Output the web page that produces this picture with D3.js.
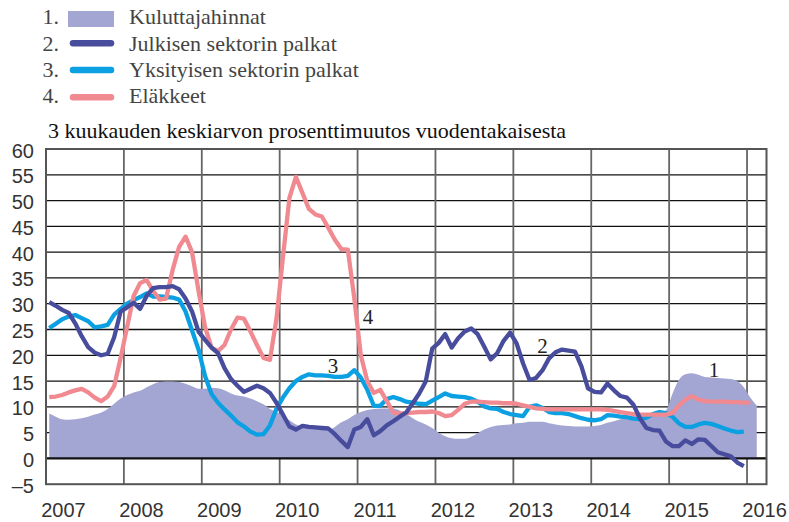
<!DOCTYPE html>
<html><head><meta charset="utf-8">
<script src="https://cdn.jsdelivr.net/npm/d3@7"></script>
<style>body{margin:0;background:#fff}svg{display:block}</style>
</head><body>
<svg id="c" width="789" height="522"></svg>
<script>
// Monthly data, Jan 2007 onward (index 0 = Jan 2007)
const seriesNames = ["Kuluttajahinnat","Julkisen sektorin palkat","Yksityisen sektorin palkat","Eläkkeet"];
const kuluttajahinnat = [8.7,8.1,7.6,7.5,7.6,7.8,8.1,8.5,8.9,9.6,10.6,11.6,
 12.3,12.8,13.1,13.8,14.4,14.8,14.9,14.9,14.8,14.5,14.0,13.5,
 13.5,13.7,13.6,13.2,12.6,12.2,12.0,11.6,11.1,10.5,9.6,9.0,
 8.3,7.4,6.6,6.2,6.0,5.8,5.7,5.6,6.1,7.0,7.6,8.4,
 9.0,9.4,9.6,9.7,9.7,9.7,9.3,8.6,7.8,7.1,6.6,5.9,
 5.0,4.3,3.9,3.8,3.8,4.2,4.9,5.6,6.1,6.4,6.5,6.6,
 6.8,6.9,7.1,7.1,7.1,6.8,6.6,6.4,6.3,6.2,6.2,6.2,
 6.3,6.5,6.9,7.2,7.6,7.9,8.2,8.5,8.7,8.8,8.9,9.3,
 12.5,15.2,16.3,16.5,16.2,15.8,15.7,15.6,15.5,15.4,15.0,13.8,
 11.8,10.2];
const julkinen = [30.3,29.6,28.8,28.2,26.2,23.7,21.6,20.5,20.0,20.3,23.5,28.5,
 29.3,30.2,29.0,31.5,33.0,33.2,33.2,33.4,32.8,31.0,28.5,24.6,
 23.0,21.5,20.4,17.5,15.4,14.1,12.9,13.5,14.1,13.6,12.7,10.8,
 8.5,6.2,5.6,6.3,6.1,6.0,5.9,5.8,4.7,3.4,2.2,5.6,
 6.1,7.6,4.5,5.3,6.4,7.2,8.1,8.9,10.7,12.6,14.9,21.3,
 22.4,24.1,21.5,23.3,24.6,25.2,24.1,21.7,19.2,20.4,22.8,24.4,
 22.3,18.4,15.2,15.6,17.1,19.4,20.6,21.1,20.9,20.7,17.8,13.6,
 12.9,12.8,14.5,13.2,12.1,11.8,10.4,7.8,5.9,5.5,5.4,3.3,
 2.4,2.4,3.5,2.8,3.7,3.6,2.4,1.2,0.8,0.4,-0.8,-1.5];
const yksityinen = [25.3,26.1,27.0,27.5,27.8,27.2,26.6,25.4,25.6,25.9,27.9,29.0,
 30.0,30.7,31.3,32.0,31.4,31.4,31.3,31.2,30.8,28.5,24.8,21.1,
 16.0,12.5,10.8,9.5,8.3,7.0,6.2,5.2,4.6,4.7,6.4,9.6,
 11.8,13.6,15.0,15.8,16.3,16.1,16.1,16.0,15.8,15.8,16.0,17.1,
 15.7,13.3,10.2,10.2,11.5,11.9,11.5,11.0,10.8,10.6,10.5,11.2,
 11.9,12.6,12.1,12.0,11.9,11.6,11.0,10.1,9.7,9.6,9.0,8.6,
 8.4,8.2,10.0,10.3,9.8,9.0,8.8,8.8,8.6,8.2,7.8,7.5,
 7.4,7.6,8.4,8.3,8.1,8.0,7.7,7.6,7.9,8.6,9.0,8.8,
 8.1,6.8,6.1,6.1,6.6,6.9,6.7,6.3,5.8,5.4,5.1,5.2];
const elakkeet = [11.9,12.0,12.3,12.8,13.2,13.5,12.8,11.8,11.1,12.0,14.0,19.5,
 25.5,31.5,34.0,34.6,32.5,30.8,31.0,36.5,41.0,43.0,40.0,32.5,
 25.5,21.5,20.8,22.0,25.0,27.3,27.1,24.6,22.0,19.5,19.1,27.0,
 39.0,50.5,54.6,51.5,48.4,47.3,46.9,44.7,42.4,40.6,40.5,31.0,
 20.0,15.0,12.7,13.3,11.1,8.9,8.7,8.8,8.9,9.0,9.0,9.1,
 8.8,8.2,8.4,9.4,10.6,11.0,11.0,10.9,10.8,10.8,10.7,10.7,
 10.6,10.3,10.0,9.7,9.6,9.5,9.5,9.5,9.5,9.5,9.5,9.5,
 9.5,9.5,9.4,9.2,9.0,8.8,8.6,8.5,8.5,8.5,8.5,8.5,
 8.8,10.3,11.4,12.1,11.4,11.1,11.0,11.0,11.0,10.9,10.9,10.8,
 10.8];
const yTicks = [-5,0,5,10,15,20,25,30,35,40,45,50,55,60];
const yearTicks = [2007,2008,2009,2010,2011,2012,2013,2014,2015,2016];
const titleText = "3 kuukauden keskiarvon prosenttimuutos vuodentakaisesta";
const seriesLabels = ["1","2","3","4"];
const labelYears = [2015.576, 2013.374, 2010.685, 2011.134];
const labelValues = [15.8, 20.4, 16.6, 26.1];
const colors = {area:"#a3a6d3", julk:"#484c9c", yks:"#0aa0e2", elak:"#f08a90"};

const svg = d3.select("#c");
const L=46, R=766.5, T=149, B=484.2;
const x = d3.scaleLinear().domain([2007, 2016.25]).range([L, R]);
const y = d3.scaleLinear().domain([-5, 60]).range([B, T]);
const tOf = i => 2007 + (i + 0.5) / 12;
const serif = "'Liberation Serif','Times New Roman',serif";
const sans = "'Liberation Sans',Arial,sans-serif";

// horizontal grid
svg.append("g").selectAll("line").data(yTicks.filter(v=>v>-5 && v<60)).join("line")
  .attr("x1", L).attr("x2", R).attr("y1", d=>y(d)).attr("y2", d=>y(d))
  .attr("stroke", "#111").attr("stroke-width", 1.3);
// vertical grid
svg.append("g").selectAll("line").data(yearTicks.slice(1)).join("line")
  .attr("x1", d=>x(d)).attr("x2", d=>x(d)).attr("y1", T).attr("y2", B)
  .attr("stroke", "#666").attr("stroke-width", 1.8);

// area
const area = d3.area().x((d,i)=>x(tOf(i))).y0(y(0)).y1(d=>y(d)).curve(d3.curveMonotoneX);
svg.append("path").datum(kuluttajahinnat).attr("d", area).attr("fill", colors.area);

// zero line
svg.append("line").attr("x1", L).attr("x2", R).attr("y1", y(0)).attr("y2", y(0))
  .attr("stroke", "#111").attr("stroke-width", 2.4);

// border
svg.append("rect").attr("x", L).attr("y", T).attr("width", R-L).attr("height", B-T)
  .attr("fill", "none").attr("stroke", "#555").attr("stroke-width", 2);

// lines
const line = d3.line().x((d,i)=>x(tOf(i))).y(d=>y(d));
[[yksityinen, colors.yks],[elakkeet, colors.elak],[julkinen, colors.julk]].forEach(([data,c])=>{
  svg.append("path").datum(data).attr("d", line).attr("fill","none")
    .attr("stroke", c).attr("stroke-width", 4.3).attr("stroke-linejoin","round");
});

// y axis labels
const yAxis = d3.axisLeft(y).tickValues(yTicks).tickSize(0).tickPadding(0)
  .tickFormat(d => d < 0 ? "\u2013" + Math.abs(d) : d);
const gy = svg.append("g").attr("transform", `translate(34,0)`).call(yAxis);
gy.select(".domain").remove();
gy.selectAll("text").attr("font-family", sans).attr("font-size", 20).attr("fill", "#333").attr("dy", "0.4em");

// x axis labels
const xAxis = d3.axisBottom(x).tickValues(yearTicks).tickSize(0).tickPadding(0).tickFormat(d3.format("d"));
const gx = svg.append("g").attr("transform", `translate(17,${B})`).call(xAxis);
gx.select(".domain").remove();
gx.selectAll("text").attr("font-family", sans).attr("font-size", 20).attr("fill", "#333")
  .attr("y", 32.5).attr("dy", 0);

// in-plot labels
svg.append("g").selectAll("text").data(seriesLabels).join("text")
  .attr("x", (d,i)=>x(labelYears[i])).attr("y", (d,i)=>y(labelValues[i])).attr("text-anchor","middle")
  .attr("font-family", serif).attr("font-size", 21).attr("fill", "#222").text(d=>d);

// title
svg.append("text").attr("x", 48).attr("y", 138.3).attr("font-family", serif).attr("font-size", 22)
  .attr("fill", "#111").text(titleText);

// legend
const lg = svg.append("g");
const rowY = [24.3, 50.5, 77, 103];
seriesNames.forEach((n,i)=>{
  lg.append("text").attr("x", 42.5).attr("y", rowY[i]).attr("font-family", serif).attr("font-size", 22)
    .attr("fill", "#444").text((i+1)+".");
  lg.append("text").attr("x", 129).attr("y", rowY[i]).attr("font-family", serif).attr("font-size", 22)
    .attr("fill", "#444").text(n);
});
lg.append("rect").attr("x", 68).attr("y", 11).attr("width", 46).attr("height", 16).attr("fill", colors.area);
[[colors.julk,43.3],[colors.yks,70],[colors.elak,97.3]].forEach(([c,yy])=>{
  lg.append("line").attr("x1",73).attr("x2",111).attr("y1",yy).attr("y2",yy)
    .attr("stroke",c).attr("stroke-width",6.5).attr("stroke-linecap","round");
});
</script>
</body></html>
